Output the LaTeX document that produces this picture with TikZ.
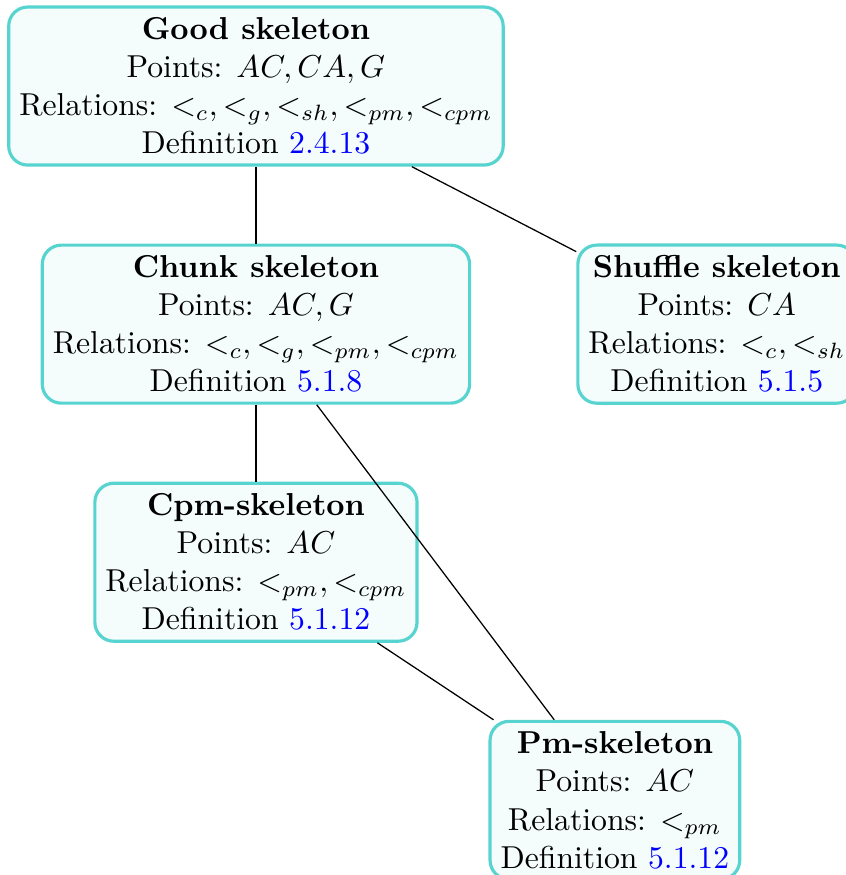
\documentclass[tikz,border=0pt]{standalone}
\usepackage{amsmath}
\usepackage{xcolor}
\usepackage{tikz}
\usetikzlibrary{positioning}

\definecolor{skelline}{RGB}{88,212,208}
\definecolor{skelfill}{RGB}{245,252,252}

\begin{document}
\begin{tikzpicture}[
    node distance=2.64cm,
    skel/.style={rectangle, rounded corners=6pt, draw=skelline, line width=1pt, fill=skelfill, align=center},
    link/.style={-}
]
\useasboundingbox (-2.838,0.954) rectangle (6.542,-8.748);

\node[skel] (good) {\textbf{Good skeleton}\\Points: $AC, CA, G$\\Relations: $<_c, <_g, <_{sh}, <_{pm}, <_{cpm}$\\Definition \textcolor{blue}{2.4.13}};
\node[skel, below of=good] (chunk) {\textbf{Chunk skeleton}\\Points: $AC, G$\\Relations: $<_c, <_g, <_{pm}, <_{cpm}$\\Definition \textcolor{blue}{5.1.8}};
\node[skel, right of=chunk, xshift=2.47cm] (shuffle) {\textbf{Shuffle skeleton}\\Points: $CA$\\Relations: $<_c, <_{sh}$\\Definition \textcolor{blue}{5.1.5}};
\node[skel, below of=chunk] (cpm) {\textbf{Cpm-skeleton}\\Points: $AC$\\Relations: $<_{pm}, <_{cpm}$\\Definition \textcolor{blue}{5.1.12}};
\node[skel, below of=cpm, xshift=3.98cm] (pm) {\textbf{Pm-skeleton}\\Points: $AC$\\Relations: $<_{pm}$\\Definition \textcolor{blue}{5.1.12}};

\draw[link] (good) -- (chunk);
\draw[link] (good) -- (shuffle);
\draw[link] (chunk) -- (cpm);
\draw[link] (chunk) -- (pm);
\draw[link] (cpm) -- (pm);

\end{tikzpicture}
\end{document}
